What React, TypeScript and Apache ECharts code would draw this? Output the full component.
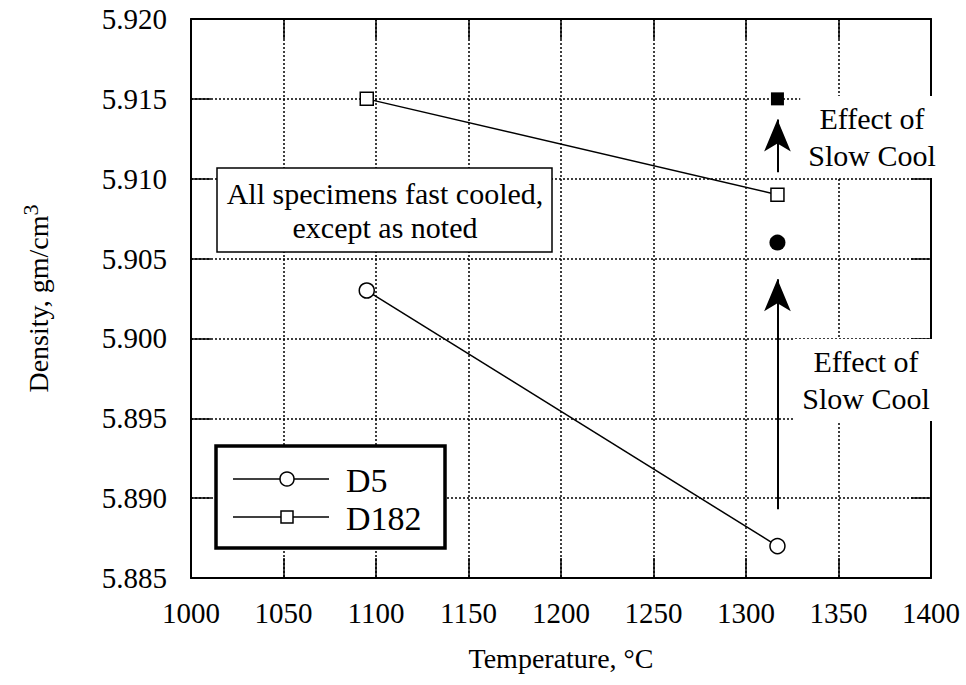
import React, { useEffect, useRef } from 'react';
import * as echarts from 'echarts';

// Data
const temperatures = [1095, 1317];
const densityD5 = [5.903, 5.887];
const densityD182 = [5.915, 5.909];
const slowCoolD5 = [[1317, 5.906]];
const slowCoolD182 = [[1317, 5.915]];
const arrowD5 = [[1317, 5.8893], [1317, 5.9037]];
const arrowD182 = [[1317, 5.9104], [1317, 5.9137]];

const xMin = 1000, xMax = 1400, xStep = 50;
const yMin = 5.885, yMax = 5.92, yStep = 0.005;

const FONT = 'Liberation Serif';

export default function App() {
  const ref = useRef<HTMLDivElement>(null);
  useEffect(() => {
    if (!ref.current) return;
    const chart = echarts.init(ref.current, null, { renderer: 'svg' });
    const gridLine = { show: true, lineStyle: { color: '#000', width: 1.5, type: [2, 2] as any } };
    const axisLine = { show: true, lineStyle: { color: '#000', width: 2 } };
    const tick = { show: true, inside: true, length: 20, lineStyle: { color: '#000', width: 1.5 } };
    const arrowLine = (pts: number[][]) => ({
      silent: true,
      symbol: ['none', 'arrow'],
      symbolSize: [20, 32],
      lineStyle: { color: '#000', width: 2, type: 'solid' },
      label: { show: false },
      data: [[{ coord: pts[0] }, { coord: pts[1] }]],
    });
    chart.setOption({
      animation: false,
      backgroundColor: '#fff',
      textStyle: { fontFamily: FONT },
      grid: { left: 191, right: 35, top: 19, bottom: 107, containLabel: false },
      xAxis: [
        {
          type: 'value', min: xMin, max: xMax, interval: xStep, position: 'bottom',
          name: 'Temperature, °C', nameLocation: 'middle', nameGap: 66,
          nameTextStyle: { fontFamily: FONT, fontSize: 28, color: '#000' },
          axisLine, axisTick: tick, splitLine: gridLine,
          axisLabel: { fontFamily: FONT, fontSize: 29, color: '#000', margin: 20, formatter: (v: number) => String(v) },
        },
        {
          type: 'value', min: xMin, max: xMax, interval: xStep, position: 'top',
          axisLine, axisTick: tick, splitLine: { show: false }, axisLabel: { show: false },
        },
      ],
      yAxis: [
        {
          type: 'value', min: yMin, max: yMax, interval: yStep, position: 'left',
          name: 'Density, gm/cm{sup|3}', nameLocation: 'middle', nameGap: 134,
          nameTextStyle: {
            fontFamily: FONT, fontSize: 28, color: '#000',
            rich: { sup: { fontFamily: FONT, fontSize: 22, color: '#000', padding: [0, 0, 16, 0] } },
          },
          axisLine, axisTick: tick, splitLine: gridLine,
          axisLabel: {
            fontFamily: FONT, fontSize: 29, color: '#000', margin: 24,
            formatter: (v: number) => v.toFixed(3),
          },
        },
        {
          type: 'value', min: yMin, max: yMax, interval: yStep, position: 'right',
          axisLine, axisTick: tick, splitLine: { show: false }, axisLabel: { show: false },
        },
      ],
      series: [
        {
          name: 'D5', type: 'line', data: temperatures.map((t, i) => [t, densityD5[i]]),
          symbol: 'circle', symbolSize: 15, showAllSymbol: true,
          lineStyle: { color: '#000', width: 1.5 },
          itemStyle: { color: '#fff', borderColor: '#000', borderWidth: 1.5 },
          z: 5,
        },
        {
          name: 'D182', type: 'line', data: temperatures.map((t, i) => [t, densityD182[i]]),
          symbol: 'rect', symbolSize: 13,
          lineStyle: { color: '#000', width: 1.5 },
          itemStyle: { color: '#fff', borderColor: '#000', borderWidth: 1.5 },
          z: 5,
        },
        {
          name: 'D5 slow cool', type: 'scatter', data: slowCoolD5, symbol: 'circle', symbolSize: 16,
          itemStyle: { color: '#000', opacity: 1 }, z: 5, markLine: arrowLine(arrowD5),
        },
        {
          name: 'D182 slow cool', type: 'scatter', data: slowCoolD182, symbol: 'rect', symbolSize: 13,
          itemStyle: { color: '#000', opacity: 1 }, z: 5, markLine: arrowLine(arrowD182),
        },
      ],
      graphic: [
        // note box
        {
          type: 'rect', z: 100, shape: { x: 217, y: 168, width: 335, height: 84 },
          style: { fill: '#fff', stroke: '#000', lineWidth: 1.5 },
        },
        {
          type: 'text', z: 101, x: 385, y: 210,
          style: {
            text: 'All specimens fast cooled,\nexcept as noted', fontFamily: FONT, fontSize: 30,
            lineHeight: 34, fill: '#000', align: 'center', verticalAlign: 'middle',
          },
        },
        // effect labels
        {
          type: 'text', z: 100, x: 872, y: 137,
          style: {
            text: 'Effect of\nSlow Cool', fontFamily: FONT, fontSize: 30, lineHeight: 37,
            fill: '#000', align: 'center', verticalAlign: 'middle',
            backgroundColor: '#fff', padding: [4, 8, 4, 8],
          },
        },
        {
          type: 'text', z: 100, x: 866, y: 380,
          style: {
            text: 'Effect of\nSlow Cool', fontFamily: FONT, fontSize: 30, lineHeight: 37,
            fill: '#000', align: 'center', verticalAlign: 'middle',
            backgroundColor: '#fff', padding: [4, 8, 4, 8],
          },
        },
        // legend
        {
          type: 'rect', z: 100, shape: { x: 216, y: 446, width: 229, height: 102 },
          style: { fill: '#fff', stroke: '#000', lineWidth: 3.5 },
        },
        { type: 'line', z: 101, shape: { x1: 233, y1: 479, x2: 329, y2: 479 }, style: { stroke: '#000', lineWidth: 1.5 } },
        { type: 'circle', z: 102, shape: { cx: 287, cy: 479, r: 7 }, style: { fill: '#fff', stroke: '#000', lineWidth: 1.5 } },
        {
          type: 'text', z: 101, x: 346, y: 480,
          style: { text: 'D5', fontFamily: FONT, fontSize: 34, fill: '#000', verticalAlign: 'middle' },
        },
        { type: 'line', z: 101, shape: { x1: 233, y1: 517, x2: 329, y2: 517 }, style: { stroke: '#000', lineWidth: 1.5 } },
        { type: 'rect', z: 102, shape: { x: 281, y: 511, width: 12, height: 12 }, style: { fill: '#fff', stroke: '#000', lineWidth: 1.5 } },
        {
          type: 'text', z: 101, x: 346, y: 518,
          style: { text: 'D182', fontFamily: FONT, fontSize: 34, fill: '#000', verticalAlign: 'middle' },
        },
      ],
    });
    return () => chart.dispose();
  }, []);
  return <div ref={ref} style={{ width: 966, height: 685, position: 'absolute', left: 0, top: 0 }} />;
}
